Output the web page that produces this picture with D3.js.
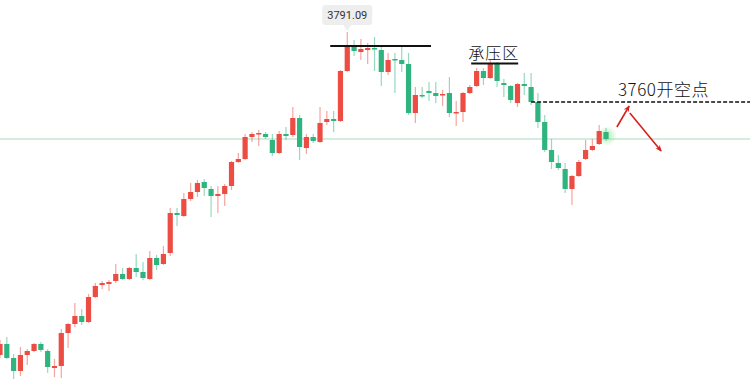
<!DOCTYPE html>
<html><head><meta charset="utf-8">
<script src="https://cdn.jsdelivr.net/npm/d3@7/dist/d3.min.js"></script>
<style>html,body{margin:0;padding:0;background:#fff;}svg{display:block;}</style>
</head><body>
<svg id="chart" width="750" height="382"></svg>
<script>
const opens = [3647.65,3652.53,3646.32,3640.54,3647.65,3649.42,3652.53,3649.42,3641.87,3642.76,
3657.41,3661.41,3664.96,3662.30,3673.40,3678.73,3679.18,3680.51,3683.62,3681.40,
3686.28,3684.50,3681.40,3690.72,3688.06,3692.94,3710.71,3709.37,3716.92,3720.03,
3724.47,3721.37,3718.26,3719.15,3722.70,3733.36,3734.69,3744.46,3745.79,3745.79,
3743.13,3737.35,3745.79,3745.35,3752.89,3739.57,3744.46,3742.24,3751.12,3752.45,
3751.56,3773.77,3784.43,3782.21,3783.09,3783.98,3783.09,3773.32,3779.10,3778.65,
3776.88,3755.11,3763.11,3764.89,3764.00,3763.11,3764.00,3755.11,3755.56,3764.00,
3767.11,3773.77,3770.66,3776.88,3768.44,3767.11,3759.56,3768.00,3766.66,3760.00,
3751.12,3738.69,3732.91,3730.25,3721.37,3727.14,3734.69,3738.69,3741.35,3746.68];
const highs = [3654.31,3655.64,3648.09,3651.20,3650.31,3652.97,3653.42,3650.31,3645.87,3659.19,
3661.86,3670.74,3668.07,3674.74,3679.62,3680.51,3680.95,3688.06,3686.28,3686.72,
3692.50,3688.95,3693.83,3692.05,3696.05,3712.93,3712.93,3719.59,3724.03,3725.36,
3725.81,3722.70,3722.70,3723.59,3733.80,3737.35,3745.79,3746.68,3747.57,3746.68,
3745.79,3747.12,3748.90,3757.78,3754.22,3745.79,3745.79,3757.78,3756.00,3756.00,
3774.21,3791.09,3787.54,3787.98,3786.20,3788.87,3784.87,3781.76,3781.76,3785.32,
3781.76,3766.66,3766.66,3768.88,3768.88,3765.33,3771.10,3760.44,3764.44,3767.55,
3775.10,3775.10,3778.65,3777.77,3770.22,3767.55,3768.44,3772.88,3772.88,3764.00,
3754.22,3743.57,3736.46,3732.91,3727.58,3734.24,3743.13,3743.57,3749.79,3748.45];
const lows = [3646.32,3645.87,3636.98,3638.32,3643.20,3648.98,3648.98,3639.65,3637.87,3637.43,
3650.75,3660.08,3660.97,3661.86,3672.96,3676.96,3676.07,3679.62,3680.95,3680.95,
3682.29,3680.95,3680.95,3685.39,3687.61,3691.61,3704.93,3708.93,3716.03,3717.81,
3718.26,3708.93,3710.71,3713.81,3720.92,3732.91,3734.24,3742.24,3740.46,3743.57,
3736.02,3736.91,3743.13,3744.46,3734.24,3736.91,3741.79,3741.79,3749.79,3746.68,
3751.12,3773.32,3780.43,3778.65,3776.88,3773.77,3767.11,3771.99,3764.00,3773.32,
3754.22,3750.68,3761.78,3760.44,3759.56,3758.23,3753.34,3749.34,3751.12,3763.55,
3766.66,3767.55,3770.22,3766.66,3762.22,3759.56,3757.78,3763.11,3758.67,3748.45,
3737.80,3730.25,3729.80,3719.59,3714.26,3726.69,3734.24,3738.24,3740.91,3742.68];
const closes = [3652.53,3646.32,3640.54,3647.65,3649.42,3652.53,3649.87,3642.31,3642.76,3657.41,
3661.41,3664.96,3662.30,3673.40,3678.29,3679.62,3680.06,3683.62,3681.40,3686.28,
3684.50,3681.84,3690.72,3687.61,3692.50,3710.71,3709.82,3716.92,3720.03,3724.03,
3721.81,3718.26,3719.15,3722.70,3733.36,3734.69,3744.46,3745.79,3746.23,3744.46,
3737.35,3745.79,3744.90,3752.89,3740.02,3744.46,3742.68,3750.68,3752.45,3751.56,
3773.77,3784.43,3782.65,3783.54,3783.98,3783.54,3773.32,3778.65,3778.65,3776.88,
3755.11,3763.11,3762.67,3764.00,3762.67,3763.55,3755.11,3755.56,3764.00,3766.66,
3773.77,3770.66,3776.88,3769.33,3767.55,3760.89,3768.00,3767.11,3760.00,3751.12,
3738.69,3733.36,3730.69,3721.37,3727.14,3733.36,3738.69,3740.46,3747.12,3743.57];

const peakLabel = "3791.09";
const resistanceLines = [
  {from: 48.5, to: 63.3, price: 3784.87},
  {from: 69.2, to: 76.1, price: 3777.10}
];
const resistanceText = "承压区";
const shortLevel = 3760;
const shortText = "3760开空点";
const arrowUp = [{i: 90.6, p: 3748.90}, {i: 92.4, p: 3758.23}];
const arrowDown = [{i: 92.5, p: 3755.11}, {i: 97.1, p: 3738.24}];

const W = 750, H = 382;
const svg = d3.select("#chart");
const n = closes.length;
const x = d3.scaleLinear().domain([0, n - 1]).range([0, 606]);
const y = d3.scaleLinear().domain([3636.98, 3791.09]).range([379, 32]);

const RED = "#ec4c42", GREEN = "#2fb47f";
const data = d3.range(n).map(i => ({i, o: opens[i], h: highs[i], l: lows[i], c: closes[i]}));

const defs = svg.append("defs");
const glow = defs.append("radialGradient").attr("id", "glow");
glow.append("stop").attr("offset", "0%").attr("stop-color", "#7be07a").attr("stop-opacity", 0.6);
glow.append("stop").attr("offset", "100%").attr("stop-color", "#7be07a").attr("stop-opacity", 0);
const mk = defs.append("marker").attr("id", "arr").attr("viewBox", "0 0 10 10")
  .attr("refX", 8).attr("refY", 5).attr("markerWidth", 7).attr("markerHeight", 7)
  .attr("orient", "auto").attr("markerUnits", "userSpaceOnUse");
mk.append("path").attr("d", "M0,1 L9,5 L0,9 L2.5,5 Z").attr("fill", "#d8201d");

// current price line
const last = closes[n - 1];
svg.append("line").attr("x1", 0).attr("x2", W).attr("y1", y(last)).attr("y2", y(last))
  .attr("stroke", "#a9dbbf").attr("stroke-width", 1);

// glow at last candle
svg.append("circle").attr("cx", x(n - 1) + 1).attr("cy", y(last) - 3).attr("r", 10).attr("fill", "url(#glow)");

// candles
const g = svg.append("g");
g.selectAll("line.wick").data(data).join("line").attr("class", "wick")
  .attr("x1", d => x(d.i)).attr("x2", d => x(d.i))
  .attr("y1", d => y(d.h)).attr("y2", d => y(d.l))
  .attr("stroke", d => d.c >= d.o ? RED : GREEN).attr("stroke-opacity", 0.5).attr("stroke-width", 1.2);
g.selectAll("rect.body").data(data).join("rect").attr("class", "body")
  .attr("x", d => x(d.i) - 2.6).attr("width", 5.2)
  .attr("y", d => y(Math.max(d.o, d.c)))
  .attr("height", d => Math.max(1.5, Math.abs(y(d.o) - y(d.c))))
  .attr("fill", d => d.c >= d.o ? RED : GREEN);

// peak label
const pi = highs.indexOf(d3.max(highs));
const px = x(pi), py = y(highs[pi]);
svg.append("rect").attr("x", px - 25).attr("y", 5).attr("width", 50).attr("height", 20)
  .attr("rx", 3).attr("fill", "#eeeeee");
svg.append("path").attr("d", `M${px - 4},25 L${px},${py - 1} L${px + 4},25 Z`).attr("fill", "#eeeeee");
svg.append("text").attr("x", px).attr("y", 19).attr("text-anchor", "middle")
  .attr("font-family", "Roboto, 'Noto Sans', sans-serif").attr("font-size", 11).attr("fill", "#333")
  .text(peakLabel);

// resistance lines
svg.selectAll("line.res").data(resistanceLines).join("line").attr("class", "res")
  .attr("x1", d => x(d.from)).attr("x2", d => x(d.to))
  .attr("y1", d => y(d.price)).attr("y2", d => y(d.price))
  .attr("stroke", "#111").attr("stroke-width", 2);
const r2 = resistanceLines[1];
svg.append("text").attr("x", (x(r2.from) + x(r2.to)) / 2 - 1).attr("y", y(r2.price) - 5)
  .attr("text-anchor", "middle").attr("font-family", "'Noto Sans CJK SC', sans-serif")
  .attr("font-size", 16).attr("font-weight", 300).attr("letter-spacing", 1).attr("fill", "#111").text(resistanceText);

// short level dashed line
svg.append("line").attr("x1", x(78)).attr("x2", W).attr("y1", y(shortLevel)).attr("y2", y(shortLevel))
  .attr("stroke", "#111").attr("stroke-width", 1.5).attr("stroke-dasharray", "4 2");
svg.append("text").attr("x", 618).attr("y", y(shortLevel) - 6)
  .attr("font-family", "'Noto Sans CJK SC', sans-serif").attr("font-size", 17).attr("font-weight", 300)
  .attr("letter-spacing", 0.5).attr("fill", "#111")
  .text(shortText);

// arrows
[arrowUp, arrowDown].forEach(a => {
  svg.append("line").attr("x1", x(a[0].i)).attr("y1", y(a[0].p)).attr("x2", x(a[1].i)).attr("y2", y(a[1].p))
    .attr("stroke", "#d8201d").attr("stroke-width", 1.6).attr("marker-end", "url(#arr)");
});
</script>
</body></html>
